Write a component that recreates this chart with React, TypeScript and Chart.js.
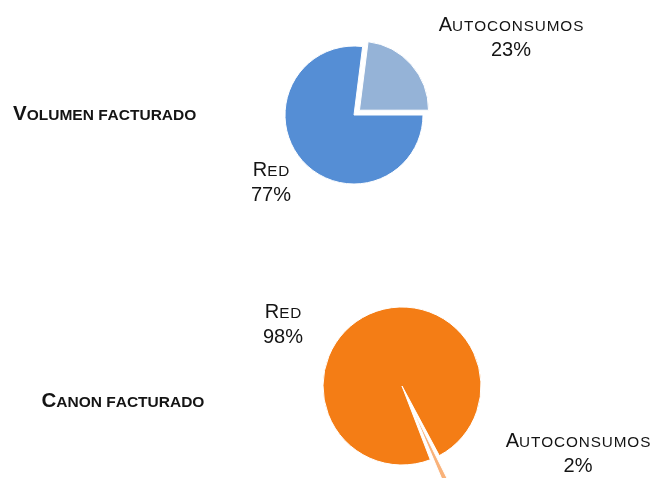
import React, { useEffect, useRef } from "react";
import { Chart, registerables } from "chart.js";

Chart.register(...registerables);

// ---- data ----
const categories = ["Red", "Autoconsumos"];
const volumenValues = [77, 23];
const canonValues = [98, 2];
const chartTitles = ["Volumen facturado", "Canon facturado"];

// ---- styles ----
const volumenColors = ["#558ED5", "#95B3D7"];
const canonColors = ["#F47D15", "#F9B27A"];
const FONT = "'Liberation Sans', Arial, sans-serif";
const W = 654;
const H = 239;

type LabelPos = { dx: number; dy: number };

function drawSmallCaps(
  ctx: CanvasRenderingContext2D,
  text: string,
  x: number,
  y: number,
  size: number,
  small: number,
  spacing: number,
  weight: string,
  align: "left" | "center"
) {
  const chars: { t: string; s: number; w: number; sp: number }[] = [];
  for (const ch of text) {
    const isLower = ch !== ch.toUpperCase();
    const isSpace = ch === " ";
    const s = isLower || isSpace ? small : size;
    const t = ch.toUpperCase();
    ctx.font = `${weight} ${s}px ${FONT}`;
    const w = ctx.measureText(t).width;
    chars.push({ t, s, w, sp: isLower ? spacing : 0 });
  }
  if (chars.length) chars[chars.length - 1].sp = 0;
  const total = chars.reduce((a, c) => a + c.w + c.sp, 0);
  let cx = align === "center" ? x - total / 2 : x;
  ctx.textAlign = "left";
  ctx.textBaseline = "alphabetic";
  for (const c of chars) {
    ctx.font = `${weight} ${c.s}px ${FONT}`;
    ctx.fillText(c.t, cx, y);
    cx += c.w + c.sp;
  }
}

const pieLabels = {
  id: "pieLabels",
  afterDraw(chart: any, _args: any, opts: any) {
    const ctx: CanvasRenderingContext2D = chart.ctx;
    const meta = chart.getDatasetMeta(0);
    const arc = meta.data[0];
    if (!arc) return;
    const cx = arc.x;
    const cy = arc.y;
    const values: number[] = chart.data.datasets[0].data;
    const sum = values.reduce((a, b) => a + b, 0);
    const labels: string[] = chart.data.labels;
    ctx.save();
    ctx.fillStyle = "#141414";
    labels.forEach((lab, i) => {
      const p: LabelPos = opts.positions[i];
      const pct = Math.round((values[i] / sum) * 100) + "%";
      drawSmallCaps(ctx, lab, cx + p.dx, cy + p.dy, 20, 15.3, 0.9, "normal", "center");
      drawSmallCaps(ctx, pct, cx + p.dx, cy + p.dy + 25, 20, 15.3, 0, "normal", "center");
    });
    drawSmallCaps(ctx, opts.title, opts.titleX, opts.titleY, 20.5, 15.5, 0, "bold", "left");
    ctx.restore();
  },
};

function PieCanvas(props: {
  values: number[];
  colors: string[];
  rotation: number;
  radius: number;
  offset: number;
  padding: { left: number; right: number; top: number; bottom: number };
  positions: LabelPos[];
  title: string;
  titleX: number;
  titleY: number;
  top: number;
}) {
  const ref = useRef<HTMLCanvasElement | null>(null);
  useEffect(() => {
    if (!ref.current) return;
    const chart = new Chart(ref.current, {
      type: "pie",
      data: {
        labels: categories,
        datasets: [
          {
            data: props.values,
            backgroundColor: props.colors,
            borderColor: "#ffffff",
            borderWidth: 1,
            offset: [0, props.offset],
          } as any,
        ],
      },
      options: {
        responsive: false,
        animation: false,
        rotation: props.rotation,
        radius: props.radius,
        events: [],
        layout: { padding: props.padding },
        plugins: {
          legend: { display: false },
          tooltip: { enabled: false },
          pieLabels: {
            positions: props.positions,
            title: props.title,
            titleX: props.titleX,
            titleY: props.titleY,
          },
        } as any,
      } as any,
      plugins: [pieLabels as any],
    });
    return () => chart.destroy();
  }, []);
  return (
    <canvas
      ref={ref}
      width={W}
      height={H}
      style={{ position: "absolute", left: 0, top: props.top, width: W, height: H, display: "block" }}
    />
  );
}

export default function App() {
  useEffect(() => {
    document.body.style.margin = "0";
  }, []);
  return (
    <div style={{ position: "relative", width: W, height: 478, background: "#fff", overflow: "hidden" }}>
      <PieCanvas
        values={volumenValues}
        colors={volumenColors}
        rotation={90}
        radius={69}
        offset={29}
        padding={{ left: 244, right: 190, top: 5, bottom: 14 }}
        positions={[
          { dx: -83, dy: 61 },
          { dx: 157, dy: -84 },
        ]}
        title={chartTitles[0]}
        titleX={13}
        titleY={120}
        top={0}
      />
      <PieCanvas
        values={canonValues}
        colors={canonColors}
        rotation={159}
        radius={79}
        offset={88}
        padding={{ left: 317, right: 167, top: 62, bottom: 7 }}
        positions={[
          { dx: -119, dy: -68 },
          { dx: 176, dy: 61 },
        ]}
        title={chartTitles[1]}
        titleX={41.5}
        titleY={168.3}
        top={H}
      />
    </div>
  );
}
